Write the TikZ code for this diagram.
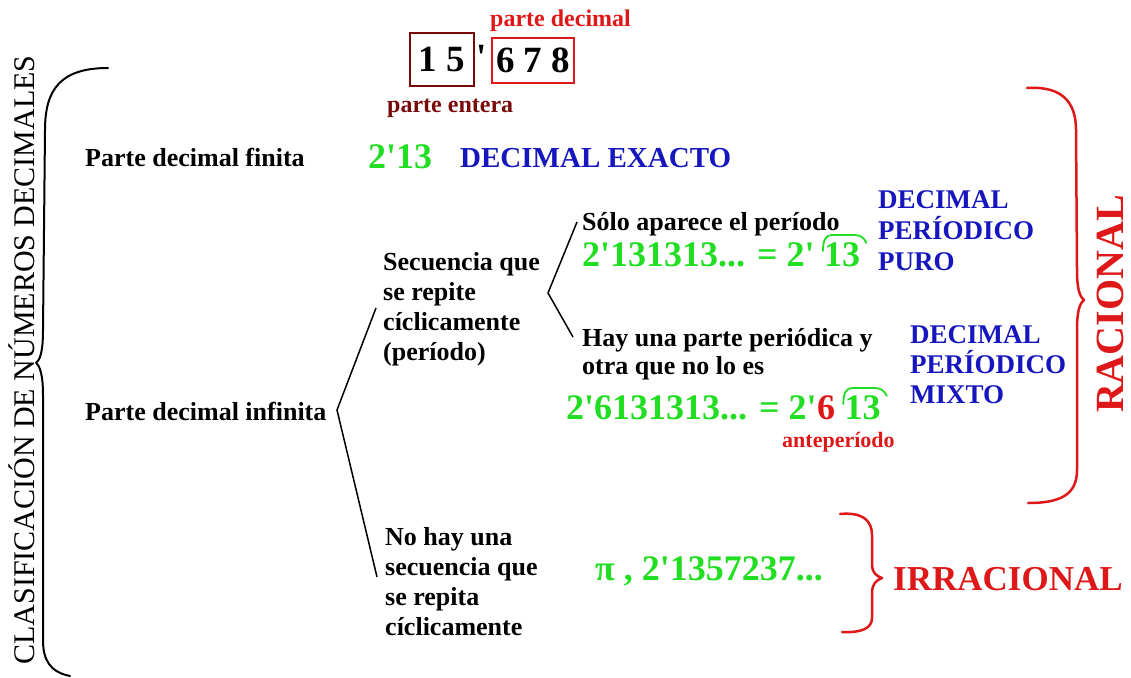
\documentclass[tikz,border=0pt]{standalone}
\usepackage{fontspec}
\setmainfont{Liberation Serif}[Ligatures=TeXOff]
\usetikzlibrary{positioning}

\definecolor{verde}{RGB}{34,222,34}
\definecolor{azul}{RGB}{22,22,190}
\definecolor{rojo}{RGB}{222,24,24}
\definecolor{granate}{RGB}{120,10,10}

\tikzset{
  txt/.style={anchor=base west, inner sep=0pt, font=\bfseries\fontsize{26}{30}\selectfont},
  num/.style={txt, text=verde, font=\bfseries\fontsize{36}{40}\selectfont},
  tipo/.style={txt, text=azul, font=\bfseries\fontsize{27}{31}\selectfont},
  llave/.style={line width=2pt, line cap=round, line join=round},
  arco/.style={verde, line width=1.8pt, line cap=round},
}

\begin{document}
\begin{tikzpicture}[x=1pt, y=-1pt]
\useasboundingbox (0,0) rectangle (1131,677);

% titulo vertical
\node[rotate=90, inner sep=0pt, font=\fontsize{30}{36}\selectfont] (titulo) at (22,360) {CLASIFICACIÓN DE NÚMEROS DECIMALES};

% el numero y sus partes
\node[draw=granate, line width=1.5pt, inner sep=0pt, minimum width=64, minimum height=53,
  font=\bfseries\fontsize{37}{40}\selectfont] (entera) at (442,59.5) {1 5};
\node[txt, anchor=base, font=\bfseries\fontsize{37}{40}\selectfont] (coma) at (482,70) {'};
\node[draw=rojo, line width=1.5pt, inner sep=0pt, minimum width=82, minimum height=45,
  font=\bfseries\fontsize{37}{40}\selectfont] (decimal) at (533,60.5) {6 7 8};
\node[txt, text=rojo, font=\bfseries\fontsize{24}{28}\selectfont] (pdecimal) at (490,27) {parte decimal};
\node[txt, text=granate, font=\bfseries\fontsize{24}{28}\selectfont] (pentera) at (387,112) {parte entera};

% parte decimal finita
\node[txt] (finita) at (85,166) {Parte decimal finita};
\node[num] (dostrece) at (368,168) {2'13};
\node[tipo, font=\bfseries\fontsize{29}{32}\selectfont] (exacto) at (460,167) {DECIMAL EXACTO};

% parte decimal infinita
\node[txt] (infinita) at (85,420) {Parte decimal infinita};
\foreach \t [count=\i from 0] in {Secuencia que, se repite, cíclicamente, (período)}
  \node[txt] (sec\i) at (383,{270+30*\i}) {\t};
\foreach \t [count=\i from 0] in {No hay una, secuencia que, se repita, cíclicamente}
  \node[txt] (nohay\i) at (385,{545+30*\i}) {\t};

\coordinate (v1) at (337,410);
\coordinate (a1) at (376,308);
\coordinate (b1) at (377,577);
\draw[line width=1.5pt] (a1) -- (v1) -- (b1);

% periodico puro
\node[txt] (solo) at (582,230) {Sólo aparece el período};
\node[num] (puro) at (582,266) {2'131313... = 2'};
\node[num] (puro13) at ([xshift=9]puro.base east) {13};
\draw[arco] ([shift={(-1,9)}]puro13.north west) .. controls ([shift={(-1,-2)}]puro13.north west) and ([shift={(2,-7)}]puro13.north west) .. ([shift={(8,-7)}]puro13.north west)
  -- ([shift={(-6,-7)}]puro13.north east) .. controls ([shift={(0,-7)}]puro13.north east) and ([shift={(4,-4)}]puro13.north east) .. ([shift={(6,1)}]puro13.north east);

% periodico mixto
\node[txt] (hay) at (582,346) {Hay una parte periódica y};
\node[txt] (otra) at (582,374) {otra que no lo es};
\node[num] (mixto) at (566,419) {2'6131313... = 2'};
\node[num, text=rojo] (ante6) at (mixto.base east) {6};
\node[num] (mixto13) at ([xshift=9]ante6.base east) {13};
\draw[arco] ([shift={(-1,9)}]mixto13.north west) .. controls ([shift={(-1,-2)}]mixto13.north west) and ([shift={(2,-7)}]mixto13.north west) .. ([shift={(8,-7)}]mixto13.north west)
  -- ([shift={(-6,-7)}]mixto13.north east) .. controls ([shift={(0,-7)}]mixto13.north east) and ([shift={(4,-4)}]mixto13.north east) .. ([shift={(6,1)}]mixto13.north east);
\node[txt, text=rojo, font=\bfseries\fontsize{22}{26}\selectfont] (ante) at (782,447) {anteperíodo};

\coordinate (v2) at (548,293);
\coordinate (a2) at (577,222);
\coordinate (b2) at (573,337);
\draw[line width=1.5pt] (a2) -- (v2) -- (b2);

% tipos
\foreach \t [count=\i from 0] in {DECIMAL, PERÍODICO, PURO}
  \node[tipo] (tpuro\i) at (878,{208+31*\i}) {\t};
\foreach \t [count=\i from 0] in {DECIMAL, PERÍODICO, MIXTO}
  \node[tipo] (tmixto\i) at (910,{343+30*\i}) {\t};

% irracional
\node[num, font=\bfseries\fontsize{36}{40}\selectfont] (pi) at (595,580) {π , 2'1357237...};
\node[txt, text=rojo, font=\bfseries\fontsize{35}{40}\selectfont] (irracional) at (893,590) {IRRACIONAL};
\node[rotate=90, inner sep=0pt, text=rojo, font=\bfseries\fontsize{40}{44}\selectfont] (racional) at (1110,304) {RACIONAL};

% llaves
\draw[llave] (108,68) .. controls (60,68) and (45,90) .. (45,130) -- (43,330)
  .. controls (43,352) and (40,360) .. (36,363) .. controls (40,366) and (43,375) .. (43,395)
  -- (43,640) .. controls (43,660) and (50,672) .. (70,676);
\draw[llave, rojo, line width=2.5pt] (1027,88) .. controls (1060,86) and (1076,100) .. (1076,130) -- (1077,270)
  .. controls (1077,290) and (1080,297) .. (1084,300) .. controls (1080,303) and (1077,310) .. (1077,330)
  -- (1077,470) .. controls (1077,495) and (1060,503) .. (1028,503);
\draw[llave, rojo, line width=2.5pt] (840,514) .. controls (862,512) and (872,520) .. (872,535) -- (872,565)
  .. controls (872,572) and (876,576) .. (882,578) .. controls (876,580) and (872,585) .. (872,592)
  -- (872,618) .. controls (872,628) and (862,633) .. (842,632);
\end{tikzpicture}
\end{document}
